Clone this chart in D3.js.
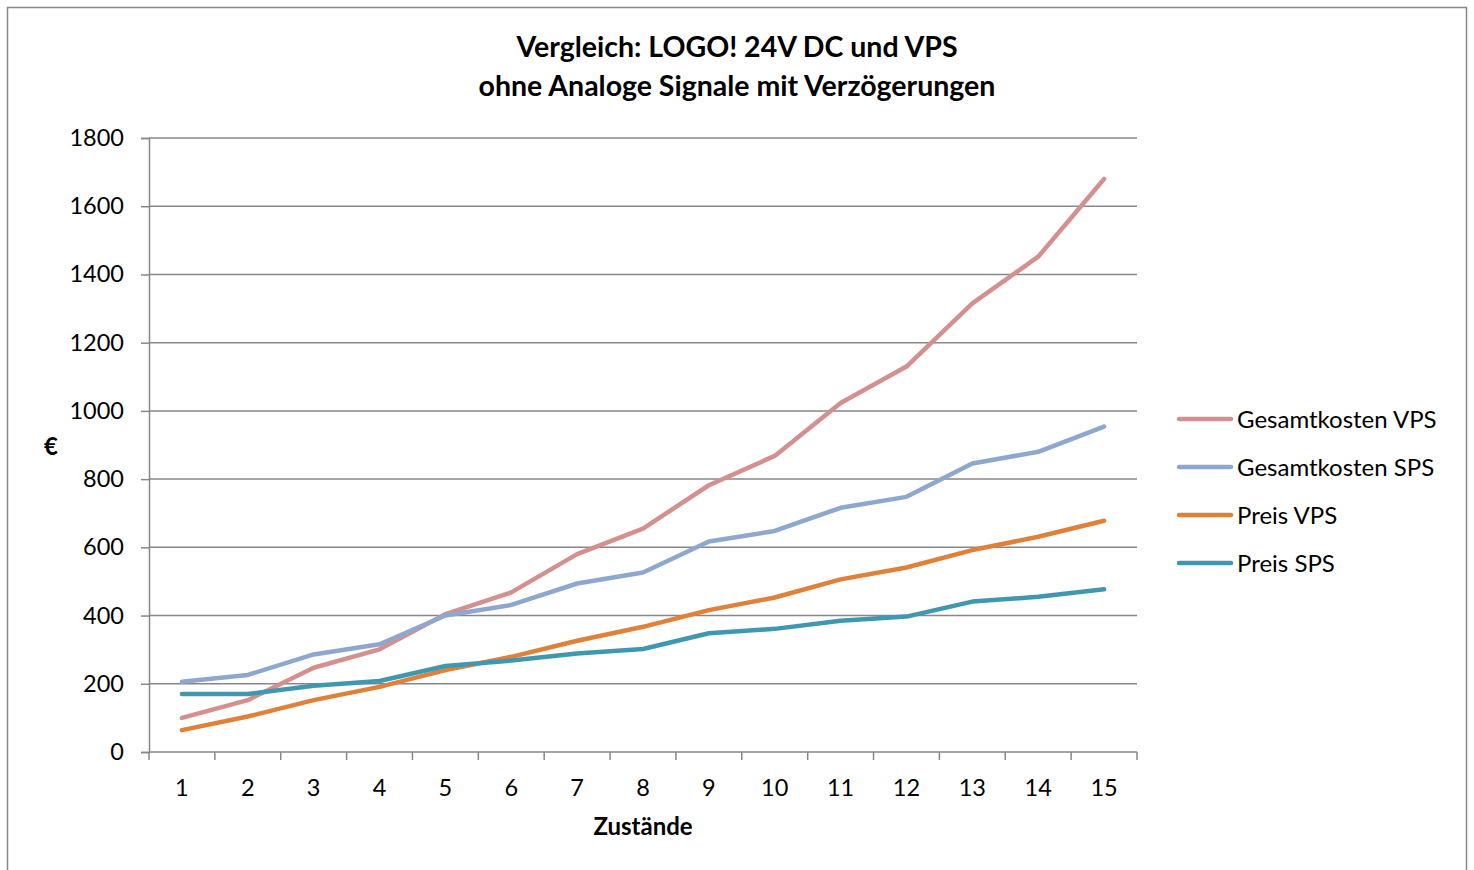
<!DOCTYPE html>
<html>
<head>
<meta charset="utf-8">
<script src="https://cdn.jsdelivr.net/npm/d3@7"></script>
<style>
  html, body { margin: 0; padding: 0; background: #fff; }
  svg { display: block; font-family: Lato, "Open Sans", sans-serif; }
</style>
</head>
<body>
<svg id="chart" width="1474" height="870"></svg>
<script>
// Number of states (x categories)
const categories = ["1","2","3","4","5","6","7","8","9","10","11","12","13","14","15"];

// Cost series in euro
const gesamtkostenVPS = [100, 152, 247, 301, 404, 468, 580, 655, 782, 868, 1023, 1130, 1315, 1452, 1680];
const gesamtkostenSPS = [206, 226, 286, 316, 400, 431, 494, 526, 617, 648, 716, 748, 846, 880, 954];
const preisVPS = [64, 104, 152, 191, 240, 279, 326, 367, 416, 453, 506, 541, 592, 631, 678];
const preisSPS = [170, 170, 194, 208, 252, 268, 289, 302, 348, 361, 385, 397, 441, 455, 477];

const yTicks = [0, 200, 400, 600, 800, 1000, 1200, 1400, 1600, 1800];

const seriesNames = ["Gesamtkosten VPS", "Gesamtkosten SPS", "Preis VPS", "Preis SPS"];
const seriesColors = ["#D4908E", "#8EA7CF", "#E0813A", "#3F98B0"];
const seriesValues = [gesamtkostenVPS, gesamtkostenSPS, preisVPS, preisSPS];

const svg = d3.select("#chart");
const grid = "#878787";

// Chart frame
svg.append("rect")
  .attr("x", 7.5).attr("y", 7.5)
  .attr("width", 1459).attr("height", 880)
  .attr("fill", "none").attr("stroke", grid).attr("stroke-width", 1.5);

const plot = { left: 149, right: 1137, top: 138, bottom: 752 };

const x = d3.scaleBand().domain(categories).range([plot.left, plot.right]);
const y = d3.scaleLinear().domain([0, 1800]).range([plot.bottom, plot.top]);

// Horizontal gridlines
svg.append("g").selectAll("line").data(yTicks.filter(d => d > 0)).join("line")
  .attr("x1", plot.left).attr("x2", plot.right)
  .attr("y1", d => y(d)).attr("y2", d => y(d))
  .attr("stroke", grid).attr("stroke-width", 1.5);

// Y axis
const yAxis = svg.append("g")
  .attr("transform", `translate(${plot.left},0)`)
  .call(d3.axisLeft(y).tickValues(yTicks).tickSize(8).tickPadding(17).tickFormat(d3.format("d")));
yAxis.select(".domain").attr("stroke", grid).attr("stroke-width", 1.5);
yAxis.selectAll(".tick line").attr("stroke", grid).attr("stroke-width", 1.5);
yAxis.selectAll(".tick text").attr("font-size", 23.5).attr("fill", "#000")
  .attr("font-family", "Lato, sans-serif");

// X axis: ticks sit on category boundaries
const xAxisG = svg.append("g").attr("transform", `translate(0,${plot.bottom})`);
xAxisG.append("line")
  .attr("x1", plot.left).attr("x2", plot.right)
  .attr("stroke", grid).attr("stroke-width", 1.5);
const boundaries = categories.map(c => x(c)).concat([x(categories[categories.length - 1]) + x.bandwidth()]);
xAxisG.selectAll("line.tk").data(boundaries).join("line").attr("class", "tk")
  .attr("x1", d => d).attr("x2", d => d).attr("y1", 0).attr("y2", 8)
  .attr("stroke", grid).attr("stroke-width", 1.5);
xAxisG.selectAll("text").data(categories).join("text")
  .attr("x", d => x(d) + x.bandwidth() / 2).attr("y", 44)
  .attr("text-anchor", "middle").attr("font-size", 23.5).attr("fill", "#000")
  .text(d => d);

// Series lines
const line = d3.line()
  .x((d, i) => x(categories[i]) + x.bandwidth() / 2)
  .y(d => y(d));
svg.append("g").selectAll("path").data(seriesValues).join("path")
  .attr("d", d => line(d))
  .attr("fill", "none")
  .attr("stroke", (d, i) => seriesColors[i])
  .attr("stroke-width", 4.5)
  .attr("stroke-linejoin", "round")
  .attr("stroke-linecap", "round");

// Title
const title = svg.append("text").attr("text-anchor", "middle")
  .attr("font-weight", "bold").attr("font-size", 28.5).attr("fill", "#000");
title.append("tspan").attr("x", 737).attr("y", 57).text("Vergleich: LOGO! 24V DC und VPS");
title.append("tspan").attr("x", 737).attr("y", 96).text("ohne Analoge Signale mit Verzögerungen");

// Axis titles
svg.append("text").attr("x", 51).attr("y", 455).attr("text-anchor", "middle")
  .attr("font-weight", "bold").attr("font-size", 24).text("€");
svg.append("text").attr("x", 643).attr("y", 835).attr("text-anchor", "middle")
  .attr("font-weight", "bold").attr("font-size", 24).text("Zustände");

// Legend
const legend = svg.append("g").selectAll("g").data(seriesNames).join("g")
  .attr("transform", (d, i) => `translate(1179,${419 + i * 48})`);
legend.append("line")
  .attr("x1", 0).attr("x2", 52).attr("y1", 0).attr("y2", 0)
  .attr("stroke", (d, i) => seriesColors[i]).attr("stroke-width", 4.5)
  .attr("stroke-linecap", "round");
legend.append("text")
  .attr("x", 58).attr("y", 8.5).attr("font-size", 24).attr("fill", "#000")
  .text(d => d);
</script>
</body>
</html>
